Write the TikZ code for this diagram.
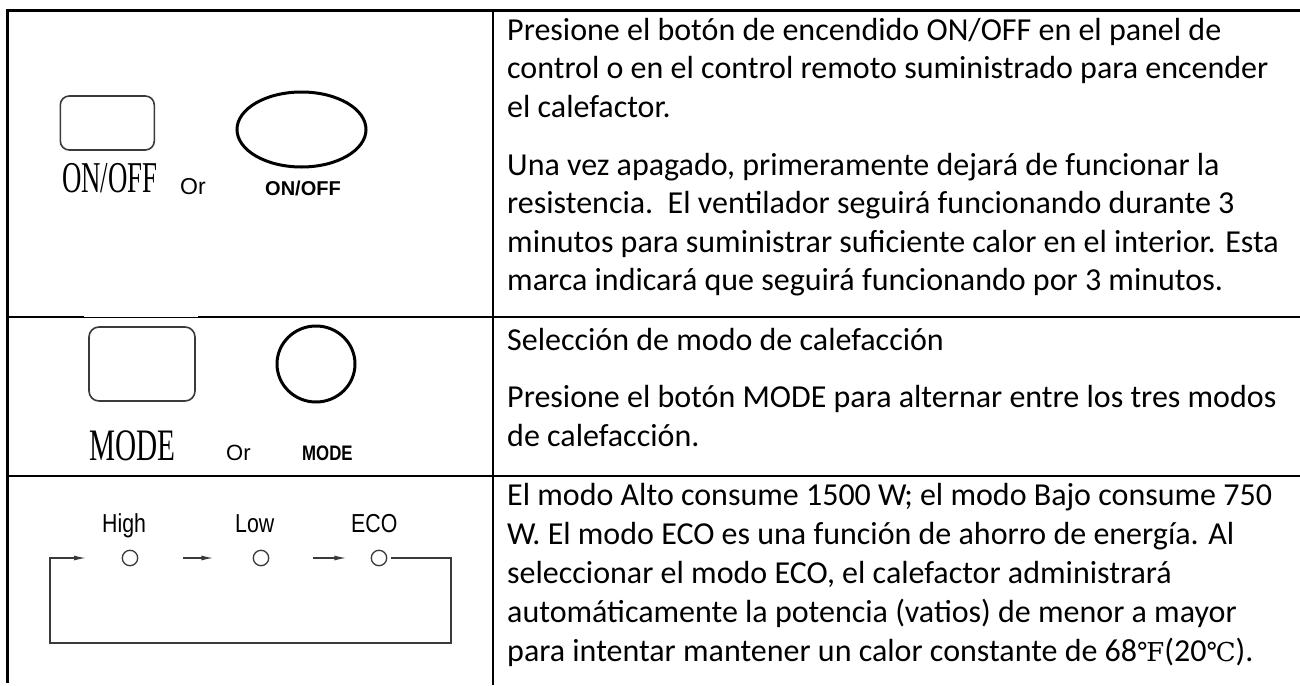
\documentclass[tikz,border=0pt]{standalone}
\usepackage{fontspec}
\usepackage{graphicx}
\setmainfont{Carlito}
\newfontfamily\arialf{Liberation Sans}
\newfontfamily\timesf{Liberation Serif}
\newfontfamily\symf{DejaVu Serif}
\usetikzlibrary{arrows.meta,shapes.geometric}
\definecolor{gline}{HTML}{3A3A3A}
\tikzset{
  tline/.style={line width=2.6pt, draw=black},
  body/.style={anchor=base west, inner sep=0pt, font=\fontsize{32}{39}\selectfont},
  lbl/.style={anchor=base west, inner sep=0pt},
  btnrect/.style={draw=gline, line width=1.6pt, rounded corners=9pt, inner sep=0pt},
  btnoval/.style={ellipse, draw=black, line width=3pt, inner sep=0pt},
  arr/.style={draw=gline, line width=1.3pt, -{Latex[length=12pt,width=5pt]}},
  led/.style={circle, draw=gline, line width=1.3pt, minimum size=15.4pt, inner sep=0pt},
}
\begin{document}
\begin{tikzpicture}[x=1pt,y=-1pt]
\useasboundingbox (0,0) rectangle (1300,685);
% table grid
\coordinate (tr) at (1300,10.5);
\coordinate (tl) at (7.5,10.5);
\coordinate (bl) at (7.5,683);
\coordinate (ct) at (493,10.5);
\coordinate (cb) at (493,685);
\draw[tline, line join=miter] (tr) -- (tl) -- (bl);
\draw[tline] (ct) -- (cb);
\coordinate (r1l) at (7.5,317);
\coordinate (r1r) at (1300,317);
\coordinate (r2l) at (7.5,476);
\coordinate (r2r) at (1300,476);
\draw[tline] (r1l) -- (r1r);
\draw[tline] (r2l) -- (r2r);
\fill[white] (84,315.6) rectangle (198,316.9);

% row 1 buttons
\node[btnrect, minimum width=94pt, minimum height=54pt] (onrect) at (107.3,123) {};
\node[btnoval, minimum width=129pt, minimum height=75pt] (onoval) at (301.5,129.5) {};
\node[lbl] (ontxt) at (62,192) {\scalebox{0.61}[1]{\timesf\fontsize{44}{44}\selectfont ON/OFF}};
\node[lbl] (or1) at (180,194) {\arialf\fontsize{23}{23}\selectfont Or};
\node[lbl] (onbold) at (265,195) {\arialf\bfseries\fontsize{20}{20}\selectfont ON/OFF};

% row 2 buttons
\node[btnrect, minimum width=106pt, minimum height=74pt, rounded corners=10pt] (moderect) at (142,364) {};
\node[btnoval, minimum width=78pt, minimum height=76pt] (modeoval) at (316,364) {};
\node[lbl] (modetxt) at (89,460) {\scalebox{0.65}[1]{\timesf\fontsize{45}{45}\selectfont MODE}};
\node[lbl] (or2) at (226,460) {\arialf\fontsize{22}{22}\selectfont Or};
\node[lbl] (modebold) at (302,460) {\scalebox{0.8}[1]{\arialf\bfseries\fontsize{21}{21}\selectfont MODE}};

% row 3 mode cycle
\node[led] (hi) at (130,558) {};
\node[led] (lo) at (261,558) {};
\node[led] (eco) at (379,558) {};
\node[lbl] (hitxt) at (102,532) {\scalebox{0.82}[1]{\arialf\fontsize{26}{26}\selectfont High}};
\node[lbl] (lotxt) at (235,532) {\scalebox{0.82}[1]{\arialf\fontsize{26}{26}\selectfont Low}};
\node[lbl] (ecotxt) at (351,532) {\scalebox{0.82}[1]{\arialf\fontsize{26}{26}\selectfont ECO}};
\draw[arr, shorten <=44.3pt, shorten >=39.3pt] (hi) -- (lo);
\draw[arr, shorten <=43.3pt, shorten >=24.3pt] (lo) -- (eco);
\coordinate (lr) at (451,558);
\coordinate (lb) at (451,643);
\coordinate (llb) at (50,643);
\coordinate (lt) at (50,558);
\coordinate (la) at (86,558);
\draw[arr, line join=miter, shorten <=4pt] (eco) -- (lr) -- (lb) -- (llb) -- (lt) -- (la);

% right column text
\node[body] (t1a) at (507,40.5) {Presione el botón de encendido ON/OFF en el panel de};
\node[body] (t1b) at (507,78.5) {control o en el control remoto suministrado para encender};
\node[body] (t1c) at (507,117) {el calefactor.};
\node[body] (t1d) at (507,175) {Una vez apagado, primeramente dejará de funcionar la};
\node[body] (t1e) at (507,213.5) {resistencia.\ \ El ventilador seguirá funcionando durante 3};
\node[body] (t1f) at (507,252) {minutos para suministrar suficiente calor en el interior. Esta};
\node[body] (t1g) at (507,290.5) {marca indicará que seguirá funcionando por 3 minutos.};

\node[body] (t2a) at (507,350) {Selección de modo de calefacción};
\node[body] (t2b) at (507,407) {Presione el botón MODE para alternar entre los tres modos};
\node[body] (t2c) at (507,446) {de calefacción.};

\node[body] (t3a) at (507,505) {El modo Alto consume 1500 W; el modo Bajo consume 750};
\node[body] (t3b) at (507,544) {W. El modo ECO es una función de ahorro de energía. Al};
\node[body] (t3c) at (507,583) {seleccionar el modo ECO, el calefactor administrará};
\node[body] (t3d) at (507,622) {automáticamente la potencia (vatios) de menor a mayor};
\node[body] (t3e) at (507,661) {para intentar mantener un calor constante de 68{\symf\fontsize{26}{26}\selectfont ℉}(20{\symf\fontsize{26}{26}\selectfont ℃}).};
\end{tikzpicture}
\end{document}
